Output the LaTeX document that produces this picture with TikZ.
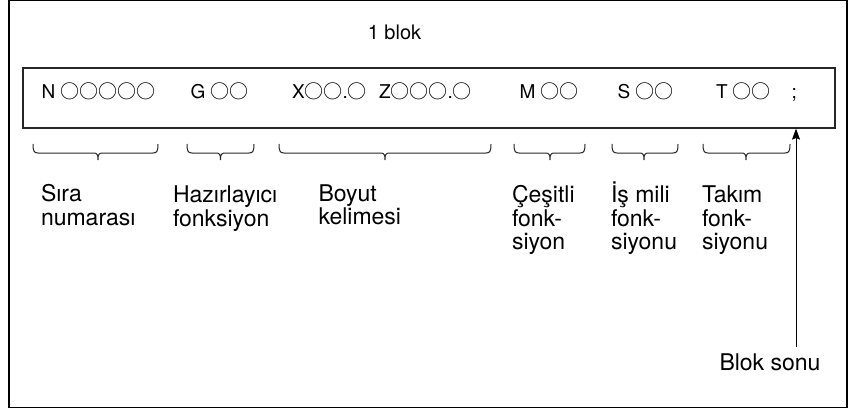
\documentclass[tikz,border=0pt]{standalone}
\usepackage{fontspec}
\setmainfont{TeX Gyre Heros}
\newfontfamily\cjk{Noto Sans CJK SC}
\usetikzlibrary{arrows.meta}
\newcommand\oc{{\cjk ○}}
\newcommand\brc[3]{% x1, x2, xm
  \draw[brcline] (#1,144) .. controls (#1,151) and (#1+1,153) .. (#1+5,153)
    -- (#3-5,153) .. controls (#3-1,153) and (#3,154) .. (#3,160)
    .. controls (#3,154) and (#3+1,153) .. (#3+5,153)
    -- (#2-5,153) .. controls (#2-1,153) and (#2,151) .. (#2,144);}
\begin{document}
\begin{tikzpicture}[x=1pt,y=-1pt,
  every node/.style={inner sep=0pt,outer sep=0pt},
  lbl/.style={anchor=base west,font=\fontsize{23}{23.5}\selectfont,align=left},
  code/.style={anchor=base west,font=\fontsize{19}{20}\selectfont},
  brcline/.style={line width=1pt,black!85},
  frameline/.style={line width=1.5pt,black}]
\useasboundingbox (0,0) rectangle (856,409);
\draw[frameline] (9,0.6) rectangle (847,407.3);
\node[draw,line width=1.2pt,black!85,minimum width=812pt,minimum height=60pt,anchor=north west] (blk) at (23,68) {};
\node[anchor=base,font=\fontsize{20}{22}\selectfont] (title) at (394.5,40) {1 blok};
% code words
\node[code] (n) at (41.5,99) {N \oc\oc\oc\oc\oc};
\node[code] (g) at (190.5,99) {G \oc\oc};
\node[code] (x) at (292,99) {X\oc\oc.\oc};
\node[code] (z) at (379,99) {Z\oc\oc\oc.\oc};
\node[code] (m) at (519.5,99) {M \oc\oc};
\node[code] (s) at (617.5,99) {S \oc\oc};
\node[code] (t) at (716,99) {T \oc\oc};
\node[code] (semi) at (791.5,99) {;};
% braces
\brc{33}{158}{98}
\brc{187}{254}{220.5}
\brc{279}{491}{385}
\brc{514}{585}{550}
\brc{612}{678}{644}
\brc{703}{790}{746}
% labels (base anchor = baseline of last line)
\node[lbl] (l1) at (41,225) {Sıra\\numarası};
\node[lbl] (l2) at (173,226) {Hazırlayıcı\\fonksiyon};
\node[lbl] (l3) at (318.5,224.5) {Boyut\\kelimesi};
\node[lbl] (l4) at (512,249.5) {Çeşitli\\fonk-\\siyon};
\node[lbl] (l5) at (611,249.5) {İş mili\\fonk-\\siyonu};
\node[lbl] (l6) at (702,249.5) {Takım\\fonk-\\siyonu};
\node[lbl] (bs) at (719.5,370) {Blok sonu};
% arrow
\coordinate (aend) at (796,128.6);
\coordinate (astart) at (796,347);
\draw[line width=1pt,-{Stealth[length=11pt,width=8pt,inset=1.5pt]}] (astart) -- (aend);
\end{tikzpicture}
\end{document}
